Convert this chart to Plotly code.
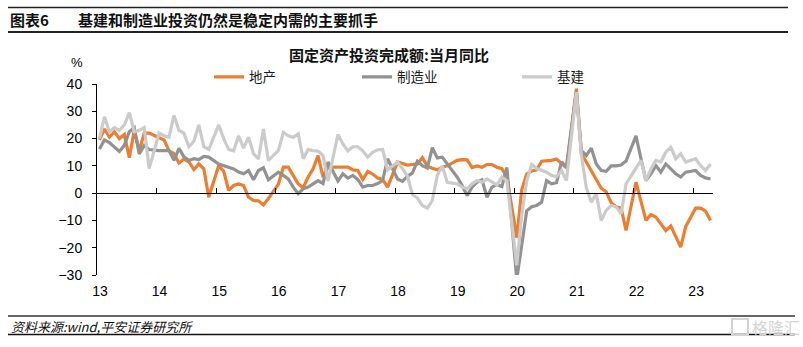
import plotly.graph_objects as go

# ---------------- data (monthly YoY %, Jan merged into Feb, so Jan is absent) ----------------
year_labels = ["13", "14", "15", "16", "17", "18", "19", "20", "21", "22", "23"]
months = [f"{y}-{m:02d}" for y in range(2013, 2023) for m in range(2, 13)] + \
         ["2023-02", "2023-03", "2023-04", "2023-05"]

real_estate = [  # 地产
    19.5, 23.5, 20.5, 22.5, 20.0, 21.5, 13.0, 23.0, 15.5, 22.0, 22.0,      # 2013
    20.5, 19.5, 15.5, 14.5, 11.0, 12.5, 11.5, 8.6, 10.7, 8.9, -1.5,       # 2014
    10.1, 8.0, 1.0, 2.8, 3.4, 2.8, -1.5, -2.7, -2.8, -4.3, -2.0,           # 2015
    3.2, 9.5, 9.5, 6.5, 3.4, 2.0, 5.9, 8.9, 13.8, 5.9, 9.5,                # 2016
    9.5, 9.5, 9.5, 8.5, 8.3, 5.0, 8.0, 7.0, 5.5, 5.0, 2.2,                 # 2017
    11.4, 10.7, 10.3, 10.5, 10.7, 13.0, 9.9, 9.1, 8.6, 9.5, 10.0,          # 2018
    12.0, 12.3, 12.2, 9.4, 10.0, 9.5, 10.5, 10.5, 9.5, 9.0, 6.0,           # 2019
    -16.3, 1.2, 7.0, 8.1, 8.5, 11.7, 11.8, 12.0, 12.5, 10.9, 9.3,          # 2020
    38.3, 14.4, 11.4, 8.3, 5.0, 1.8, 0.5, -3.5, -5.0, -5.5, -13.7,         # 2021
    4.0, -3.0, -10.0, -7.8, -8.8, -11.2, -13.7, -12.0, -15.6, -19.8, -12.3,  # 2022
    -5.5, -5.5, -6.6, -10.0,                                               # 2023
]

manufacturing = [  # 制造业
    16.2, 19.5, 18.5, 17.0, 15.3, 17.5, 22.5, 24.0, 14.4, 17.5, 16.0,      # 2013
    15.6, 15.6, 15.6, 12.0, 16.4, 13.3, 12.0, 12.6, 12.3, 13.5, 13.2,      # 2014
    10.7, 10.1, 9.5, 8.9, 7.7, 7.1, 8.3, 4.9, 8.3, 9.3, 4.9,               # 2015
    7.7, 6.5, 5.2, 2.2, -0.2, 1.6, 2.2, 3.4, 4.6, 3.5, 11.4,               # 2016
    4.5, 7.1, 5.5, 6.5, 5.0, 2.2, 2.8, 2.8, 3.5, 4.6, 12.6,                # 2017
    5.2, 4.3, 6.2, 7.4, 11.7, 10.1, 9.2, 16.7, 12.9, 13.2, 10.7,           # 2018
    5.9, 2.8, -0.9, 2.2, 4.0, 4.9, -1.5, 2.2, 3.2, 2.4, 9.4,               # 2019
    -31.5, -19.0, -6.5, -5.0, -4.5, -3.3, 4.6, 3.4, 3.8, 11.5, 9.5,        # 2020
    37.3, 15.6, 13.8, 16.5, 10.7, 8.3, 8.0, 10.0, 10.0, 10.3, 11.8,        # 2021
    21.0, 12.6, 4.6, 7.1, 10.1, 7.7, 10.7, 8.9, 7.1, 5.9, 7.7,             # 2022
    8.3, 6.5, 5.6, 5.2,                                                    # 2023
]

infrastructure = [  # 基建
    20.0, 28.0, 22.5, 24.0, 23.0, 25.0, 29.5, 22.5, 23.0, 24.0, 9.0,       # 2013
    22.0, 21.0, 20.5, 28.5, 23.0, 22.0, 17.0, 19.0, 25.0, 17.0, 16.0,      # 2014
    25.0, 20.0, 16.0, 15.5, 21.0, 16.5, 20.5, 14.5, 12.5, 23.5, 12.0,      # 2015
    15.6, 22.3, 21.0, 20.5, 21.7, 12.6, 16.0, 15.6, 15.4, 13.8, 4.5,       # 2016
    21.5, 18.0, 15.5, 17.0, 17.0, 15.5, 13.2, 15.0, 15.9, 16.0, 8.5,       # 2017
    11.4, 9.0, 6.2, -0.5, -1.8, -4.5, -5.5, -2.7, 6.5, 10.0, 4.0,          # 2018
    3.4, 2.2, 1.6, 3.4, 4.6, 4.0, 5.2, 4.0, 3.0, 5.9, 4.6,                 # 2019
    -26.5, -8.0, 4.5, 10.5, 9.0, 8.3, 7.7, 6.5, 6.0, 8.3, 4.6,             # 2020
    37.0, 14.0, 2.0, -3.3, -0.2, -10.0, -6.3, -4.5, -5.0, -7.6, 3.4,       # 2021
    9.3, 12.0, 4.6, 8.9, 12.0, 11.4, 15.0, 16.8, 12.6, 14.4, 11.4,         # 2022
    12.6, 10.1, 8.3, 10.7,                                                 # 2023
]

series = [
    ("地产", real_estate, "#ED7D31", "legend", 215),
    ("制造业", manufacturing, "#929292", "legend2", 363),
    ("基建", infrastructure, "#CBCBCB", "legend3", 523),
]

# month position on a continuous monthly scale (Jan 2013 = 0)
def month_pos(s):
    y, m = s.split("-")
    return (int(y) - 2013) * 12 + int(m) - 1

xpos = [month_pos(s) for s in months]
tickvals = [12 * i + 0.5 for i in range(len(year_labels))]

# ---------------- layout geometry ----------------
W, H = 803, 347
L, R, T, B = 97, 90, 84, 72
PW, PH = W - L - R, H - T - B

def px(x):
    return (x - L) / PW

def py(y):
    return (H - B - y) / PH

CJK = "Noto Sans CJK SC"
NUM = "Liberation Sans, Arial"

fig = go.Figure()
for name, vals, color, lg, lx in series:
    fig.add_trace(go.Scatter(
        x=xpos, y=vals, name=name, mode="lines",
        line=dict(color=color, width=3.2),
        legend=lg, hoverinfo="skip",
    ))
# dummy trace so the zero-line axis is drawn
fig.add_trace(go.Scatter(x=[None], y=[None], xaxis="x2", showlegend=False, hoverinfo="skip"))

legend_common = dict(orientation="h", xref="paper", yref="paper", xanchor="left", yanchor="middle",
                     bgcolor="rgba(0,0,0,0)", borderwidth=0,
                     font=dict(family=CJK, size=13.5, color="#1a1a1a"))
legends = {}
for i, (name, vals, color, lg, lx) in enumerate(series):
    legends[lg] = dict(legend_common, x=px(lx - 6), y=py(77))

fig.update_layout(
    width=W, height=H,
    margin=dict(l=L, r=R, t=T, b=B),
    paper_bgcolor="white", plot_bgcolor="white",
    showlegend=True,
    **legends,
    xaxis=dict(
        range=[0.5, 124.5], tickmode="array", tickvals=tickvals, ticktext=year_labels,
        showline=False, ticks="", showgrid=False, zeroline=False,
        tickfont=dict(family=NUM, size=14, color="#000"),
        ticklabelstandoff=6, ticklabelshift=3,
    ),
    xaxis2=dict(
        overlaying="x", anchor="free", position=30 / 70,
        range=[0.5, 124.5], tickmode="array", tickvals=tickvals,
        showticklabels=False, ticks="inside", ticklen=5, tickcolor="#000", tickwidth=1,
        showline=True, linecolor="#000", linewidth=1.3, showgrid=False, zeroline=False,
    ),
    yaxis=dict(
        range=[-30, 40], dtick=10, tick0=0,
        showline=True, linecolor="#000", linewidth=1,
        ticks="outside", ticklen=4, tickcolor="#000",
        showgrid=False, zeroline=False,
        tickfont=dict(family=NUM, size=14, color="#000"),
        ticklabelstandoff=7,
    ),
)

P = dict(xref="paper", yref="paper", showarrow=False)
ann = [
    dict(P, x=px(389), y=py(55), text="<b>固定资产投资完成额:当月同比</b>",
         xanchor="center", yanchor="middle", font=dict(family=CJK, size=15, color="#111")),
    dict(P, x=px(77), y=py(63), text="%", xanchor="center", yanchor="middle",
         font=dict(family=NUM, size=13, color="#000")),
    dict(P, x=px(8), y=py(19.5), text="<b>图表6</b>", xanchor="left", yanchor="middle",
         font=dict(family=CJK, size=15, color="#111")),
    dict(P, x=px(76), y=py(19.5), text="<b>基建和制造业投资仍然是稳定内需的主要抓手</b>",
         xanchor="left", yanchor="middle", font=dict(family=CJK, size=15, color="#111")),
    dict(P, x=px(9), y=py(326), text="<i>资料来源:wind,平安证券研究所</i>",
         xanchor="left", yanchor="middle", font=dict(family=CJK, size=13, color="#111")),
    dict(P, x=px(776), y=py(327), text="格隆汇", xanchor="center", yanchor="middle",
         font=dict(family=CJK, size=16, color="#d4d4d4")),
]
fig.update_layout(annotations=ann)

shapes = [
    dict(type="line", xref="paper", yref="paper", x0=px(8), x1=px(788), y0=py(7.5), y1=py(7.5),
         line=dict(color="#222", width=1.5)),
    dict(type="line", xref="paper", yref="paper", x0=px(8), x1=px(788), y0=py(32), y1=py(32),
         line=dict(color="#222", width=1.8)),
    dict(type="line", xref="paper", yref="paper", x0=px(8), x1=px(795), y0=py(316), y1=py(316),
         line=dict(color="#666", width=2)),
    dict(type="line", xref="paper", yref="paper", x0=px(8), x1=px(795), y0=py(334.5), y1=py(334.5),
         line=dict(color="#111", width=1.5)),
    dict(type="rect", xref="paper", yref="paper", x0=px(732), x1=px(748), y0=py(319), y1=py(335),
         line=dict(color="#d4d4d4", width=2)),
]
fig.update_layout(shapes=shapes)

fig.write_html("out.html")
